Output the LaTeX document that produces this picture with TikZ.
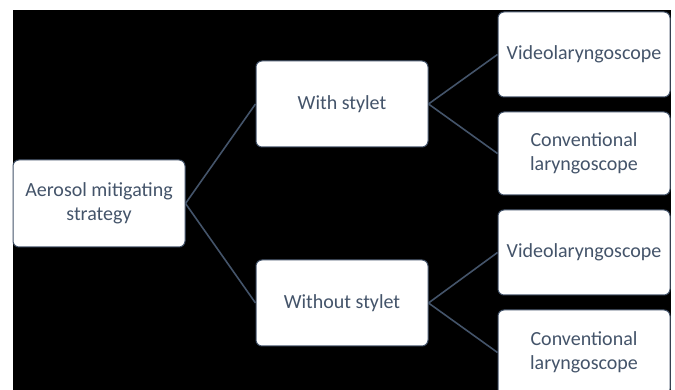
\documentclass[tikz,border=0pt]{standalone}
\usepackage{fontspec}
\setmainfont{Carlito}
\definecolor{txtcol}{HTML}{44546A}
\definecolor{linecol}{HTML}{44546A}
\begin{document}
\begin{tikzpicture}[x=1pt,y=1pt,
  box/.style={draw=linecol, line width=1pt, fill=white, rounded corners=6pt,
    minimum width=172pt, minimum height=85pt, align=center, text=txtcol,
    font=\fontsize{20}{24}\selectfont, inner sep=2pt},
  conn/.style={draw=linecol, line width=1.6pt}]
\useasboundingbox (0,0) rectangle (675,390);
\fill[white] (0,0) rectangle (675,390);
\fill[black] (13,0) rectangle (671,380);
\node[box, minimum height=87pt] (root) at (99,186.5) {Aerosol mitigating\\strategy};
\node[box, minimum height=86pt] (with) at (342,286) {With stylet};
\node[box, minimum height=86pt] (without) at (342,87) {Without stylet};
\node[box] (v1) at (584,335.5) {Videolaryngoscope};
\node[box, minimum height=83pt] (c1) at (584,236.5) {Conventional\\laryngoscope};
\node[box] (v2) at (584,137.5) {Videolaryngoscope};
\node[box] (c2) at (584,37.5) {Conventional\\laryngoscope};
\draw[conn] (root.east) -- (with.west);
\draw[conn] (root.east) -- (without.west);
\draw[conn] (with.east) -- (v1.west);
\draw[conn] (with.east) -- (c1.west);
\draw[conn] (without.east) -- (v2.west);
\draw[conn] (without.east) -- (c2.west);
\end{tikzpicture}
\end{document}
